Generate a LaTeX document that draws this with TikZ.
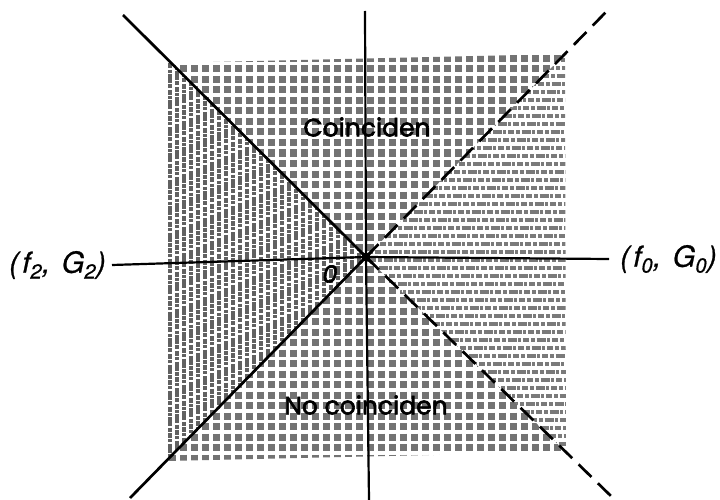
\documentclass[tikz,border=0pt]{standalone}
\usepackage{fontspec}
\setmainfont{TeX Gyre Heros}
\newfontfamily\geo[FakeBold=2.4]{Poppins}
\newfontfamily\lblfont[FakeBold=0.8,LetterSpace=12]{TeX Gyre Heros}
\begin{document}
\begin{tikzpicture}[x=1pt,y=-1pt,
  axis/.style={line width=2.2pt,black},
  solidline/.style={line width=2.7pt,black},
  dashline/.style={line width=2.7pt,black,dash pattern=on 18pt off 9pt},
  vstripe/.style={line width=4.4pt,black!62,dash pattern=on 5pt off 1.2pt on 3pt off 1.5pt on 9pt off 1.2pt on 4pt off 1.5pt},
  hstripe/.style={line width=4.8pt,black!52,dash pattern=on 6pt off 2pt on 4pt off 1.5pt on 9pt off 1.5pt on 3pt off 2pt},
  gridsq/.style={line width=7pt,black!55,dash pattern=on 7pt off 3.5pt},
  lbl/.style={font=\lblfont\fontsize{29}{32}\selectfont\itshape,inner sep=0pt},
  region/.style={font=\geo\fontsize{25}{30}\selectfont,inner sep=0pt}
]
\useasboundingbox (0,0) rectangle (720,500);
\coordinate (O) at (366,257);
\coordinate (ul) at (123,15);
\coordinate (ur) at (606,12);
\coordinate (ll) at (130,498);
\coordinate (lr) at (613,498);
\coordinate (top) at (365,11);
\coordinate (bot) at (369,500);
% shaded textures
\begin{scope}
  \clip (168,63) -- (565,54) -- (566,452) -- (168,461) -- cycle;
  \begin{scope}
    \clip (O) -- (ul) -- (ll) -- cycle;
    \foreach \x [count=\i] in {170,177,...,372} \draw[vstripe,dash phase=\i*3pt] (\x,40) -- (\x,480);
  \end{scope}
  \begin{scope}
    \clip (O) -- (ur) -- (lr) -- cycle;
    \foreach \y [count=\i] in {52,60,...,462} \draw[hstripe,dash phase=\i*5pt] (360,\y) -- (570,\y);
  \end{scope}
  \begin{scope}
    \clip (O) -- (ul) -- (ur) -- cycle;
    \foreach \x in {172,183,...,570} \draw[gridsq] (\x,55) -- (\x,260);
  \end{scope}
  \begin{scope}
    \clip (O) -- (ll) -- (lr) -- cycle;
    \foreach \x in {172,183,...,570} \draw[gridsq] (\x,255) -- (\x,462);
  \end{scope}
\end{scope}
% labels
\node[lbl,anchor=west] (f2) at (9,265) {(f\textsubscript{2}, G\textsubscript{2})};
\node[lbl,anchor=west] (f0) at (620,259) {(f\textsubscript{0}, G\textsubscript{0})};
\node[region] (co) at (367,127) {Coinciden};
\node[region] (nco) at (366,405) {No coinciden};
\node[font=\geo\fontsize{24}{26}\selectfont\itshape,inner sep=0pt] (zero) at (330,274) {0};
% axes
\draw[axis] ([xshift=6pt]f2.east) -- (O) -- ([xshift=-11pt]f0.west);
\draw[axis] (top) -- (O) -- (bot);
% diagonals
\draw[solidline] (ul) -- (O) -- (ll);
\draw[dashline] (O) -- (ur);
\draw[dashline] (O) -- (lr);
% centre blob
\fill (O) circle (4.5pt);
\foreach \a in {0,45,...,315} \draw[line width=2.6pt] (O) -- ++(\a:9pt);
\end{tikzpicture}
\end{document}
